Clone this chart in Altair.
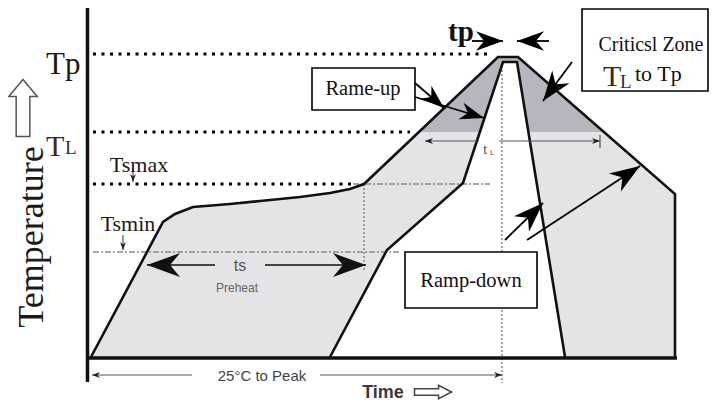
import math
import altair as alt
import pandas as pd

# ---------------- data (chart units: t = time, T = temperature) ----------------
outer_t = [0, 72, 84, 102, 139, 169, 209, 239, 259, 273, 407, 427, 584, 584]
outer_T = [0, 135, 143, 150, 153, 156, 160, 164, 168, 173, 300, 300, 163, 0]
inner_t = [239, 296, 372, 412, 426, 474]
inner_T = [0, 107, 174, 295, 295, 0]
zone_t = [329, 407, 427, 512, 437, 426, 412, 389]
zone_T = [225, 300, 300, 225, 225, 295, 295, 225]

T_P, T_L, TS_MAX, TS_MIN = 303, 225, 173, 105

# dotted level lines: (t_start, t_end, level)
black_dots = [(2, 399, T_P), (2, 319, T_L), (2, 262, TS_MAX)]
gray_dash = [(262, 399, TS_MAX), (2, 309, TS_MIN)]
# vertical guide lines: (t, T_top, T_bottom)
vguides = [(273, 173, 85), (411, 295, -26)]

# annotation arrows: (tail_t, tail_T, tip_t, tip_T)
big_arrows = [(324, 274, 353, 249), (324, 260, 393, 239), (481, 295, 452, 256),
              (414, 117, 452, 154), (436, 117, 549, 191),
              (381, 316, 412, 316), (458, 316, 426, 316)]
ts_arrows = [(124, 92, 56, 92), (174, 92, 275, 92)]
small_arrows = [(42, 189, 42, 175), (32, 122, 32, 107),
                (101, -18, 1, -18), (229, -18, 411, -18),
                (388, 216, 334, 216), (408, 216, 509, 216)]
ticks = [(509, 222, 509, 209)]

# boxes: (t1, t2, T1, T2)
boxes = [(221, 324, 289, 247), (491, 617, 348, 266), (314, 446, 105, 49)]

# ---------------- helpers ----------------
XS = alt.Scale(domain=[-83, 619], nice=False, zero=False)
YS = alt.Scale(domain=[-46, 349], nice=False, zero=False)


def pos():
    return dict(x=alt.X("t:Q", scale=XS, axis=None), y=alt.Y("T:Q", scale=YS, axis=None))


def seg_df(segs):
    return pd.DataFrame([{"t": a, "T": b, "t2": c, "T2": d} for a, b, c, d in segs])


def rules(segs, **mk):
    return alt.Chart(seg_df(segs)).mark_rule(**mk).encode(**pos(), x2="t2:Q", y2="T2:Q")


def heads(segs, length, color="black"):
    rows = []
    for a, b, c, d in segs:
        ang = math.degrees(math.atan2(-(d - b), c - a)) % 360
        rows.append({"t": c, "T": d, "ang": ang})
    return alt.Chart(pd.DataFrame(rows)).mark_point(
        shape="M0,0 L-2,-0.72 L-1.4,0 L-2,0.72 Z", size=length * length, filled=True,
        color=color, opacity=1, strokeWidth=0,
    ).encode(**pos(), angle=alt.Angle("ang:Q", scale=None))


def label(items, **mk):
    df = pd.DataFrame([{"t": a, "T": b, "s": s} for a, b, s in items])
    return alt.Chart(df).mark_text(**mk).encode(**pos(), text="s:N")


SERIF = "Liberation Serif"
SANS = "Liberation Sans"

# ---------------- layers ----------------
poly_t = outer_t + inner_t[::-1]
poly_T = outer_T + inner_T[::-1]
poly = pd.DataFrame({"t": poly_t, "T": poly_T, "i": range(len(poly_t))})
zone = pd.DataFrame({"t": zone_t, "T": zone_T, "i": range(len(zone_t))})
outer = pd.DataFrame({"t": outer_t, "T": outer_T, "i": range(len(outer_t))})
inner = pd.DataFrame({"t": inner_t, "T": inner_T, "i": range(len(inner_t))})

fill_light = alt.Chart(poly).mark_line(fill="#e4e4e7", strokeWidth=0, strokeOpacity=0,
                                       interpolate="linear-closed").encode(**pos(), order="i:Q")
fill_dark = alt.Chart(zone).mark_line(fill="#b6b6be", strokeWidth=0, strokeOpacity=0,
                                      interpolate="linear-closed").encode(**pos(), order="i:Q")

dots = rules([(a, L, b, L) for a, b, L in black_dots], color="black", strokeWidth=3.2,
             strokeDash=[3, 5.5])
dashes = rules([(a, L, b, L) for a, b, L in gray_dash], color="#8a8a8a", strokeWidth=1.3,
               strokeDash=[6, 2, 2, 2])
vlines = rules([(x, a, x, b) for x, a, b in vguides], color="#777777", strokeWidth=1.3,
               strokeDash=[2, 2])

outer_line = alt.Chart(outer).mark_line(color="#111111", strokeWidth=2.6).encode(**pos(), order="i:Q")
inner_line = alt.Chart(inner).mark_line(color="#111111", strokeWidth=2.6).encode(**pos(), order="i:Q")

axes = rules([(-3.5, 349, -3.5, -25), (-4, -1, 586, -1)], color="#111111", strokeWidth=3.5)

box_df = pd.DataFrame([{"t": a, "t2": b, "T": c, "T2": d} for a, b, c, d in boxes])
box_layer = alt.Chart(box_df).mark_rect(fill="white", stroke="black", strokeWidth=1.6).encode(
    **pos(), x2="t2:Q", y2="T2:Q")

arrow_lines = rules(big_arrows, color="black", strokeWidth=1.8)
arrow_heads = alt.layer(
    heads(big_arrows[:2], 24), heads(big_arrows[2:5], 30), heads(big_arrows[5:], 27))
ts_lines = rules(ts_arrows, color="#444444", strokeWidth=2.2)
ts_heads = heads(ts_arrows, 33, "#111111")
small_lines = rules(small_arrows + ticks, color="#555555", strokeWidth=1.2)
small_heads = heads(small_arrows, 8, "#222222")

# glyph arrows next to axis titles
glyphs = alt.layer(
    alt.Chart(pd.DataFrame({"t": [-68], "T": [249]})).mark_point(
        shape="M0,-1 L0.5,-0.4 L0.24,-0.4 L0.24,1 L-0.24,1 L-0.24,-0.4 L-0.5,-0.4 Z",
        size=57 * 57, filled=True, fill="white", stroke="#555555", strokeWidth=1.5, opacity=1,
    ).encode(**pos()),
    alt.Chart(pd.DataFrame({"t": [342], "T": [-35]})).mark_point(
        shape="M-1,-0.17 L0.3,-0.17 L0.3,-0.36 L1,0 L0.3,0.36 L0.3,0.17 L-1,0.17 Z",
        size=37 * 37, filled=True, fill="white", stroke="#444444", strokeWidth=1.5, opacity=1,
    ).encode(**pos()),
)

DARK = "#1e1a14"
texts = alt.layer(
    label([(-45, 292, "Tp")], font=SERIF, fontSize=31, align="left", color=DARK),
    label([(-45, 210, "T"), (512, 280, "T")], font=SERIF, fontSize=30, align="left", color="#3a2a12"),
    label([(-26, 209, "L"), (529, 275, "L")], font=SERIF, fontSize=19, align="left", color="#1f2f55"),
    label([(48, 192, "Tsmax"), (37, 133, "Tsmin")], font=SERIF, fontSize=22, align="center", color=DARK),
    label([(357, 325, "tp")], font=SERIF, fontSize=29, fontWeight="bold", align="left", color="#111111"),
    label([(272, 268, "Rame-up"), (380, 76, "Ramp-down")], font=SERIF, fontSize=20.5,
          align="center", baseline="middle", color="#111111"),
    label([(560, 312, "Criticsl Zone")], font=SERIF, fontSize=20, align="center", color="#111111"),
    label([(544, 283, "to Tp")], font=SERIF, fontSize=22, align="left", color="#111111"),
    label([(149, 91, "ts")], font=SANS, fontSize=16, align="center", baseline="middle", color="#555555"),
    label([(146, 69, "Preheat")], font=SANS, fontSize=12, align="center", baseline="middle", color="#666666"),
    label([(394, 207, "t")], font=SANS, fontSize=13, align="center", color="#555555"),
    label([(399, 204, "L")], font=SANS, fontSize=8, align="left", color="#555555"),
    label([(171, -19, "25°C to Peak")], font=SANS, fontSize=15, align="center", baseline="middle",
          color="#444444"),
    label([(292, -41, "Time")], font=SANS, fontSize=18, fontWeight="bold", align="center",
          baseline="alphabetic", color="#3a3a3a"),
    label([(-59, 120, "Temperature")], font=SERIF, fontSize=36, align="center", angle=270,
          color="#1a1a1a"),
)

chart = alt.layer(
    fill_light, fill_dark, dashes, vlines, dots, outer_line, inner_line, axes,
    box_layer, arrow_lines, arrow_heads, ts_lines, ts_heads, small_lines, small_heads,
    glyphs, texts,
).properties(
    width=702, height=395, padding=0, autosize=alt.AutoSizeParams(type="none"),
    background="white",
).configure_view(stroke=None)

chart.save("out.html", embed_options={"renderer": "svg", "actions": False})
